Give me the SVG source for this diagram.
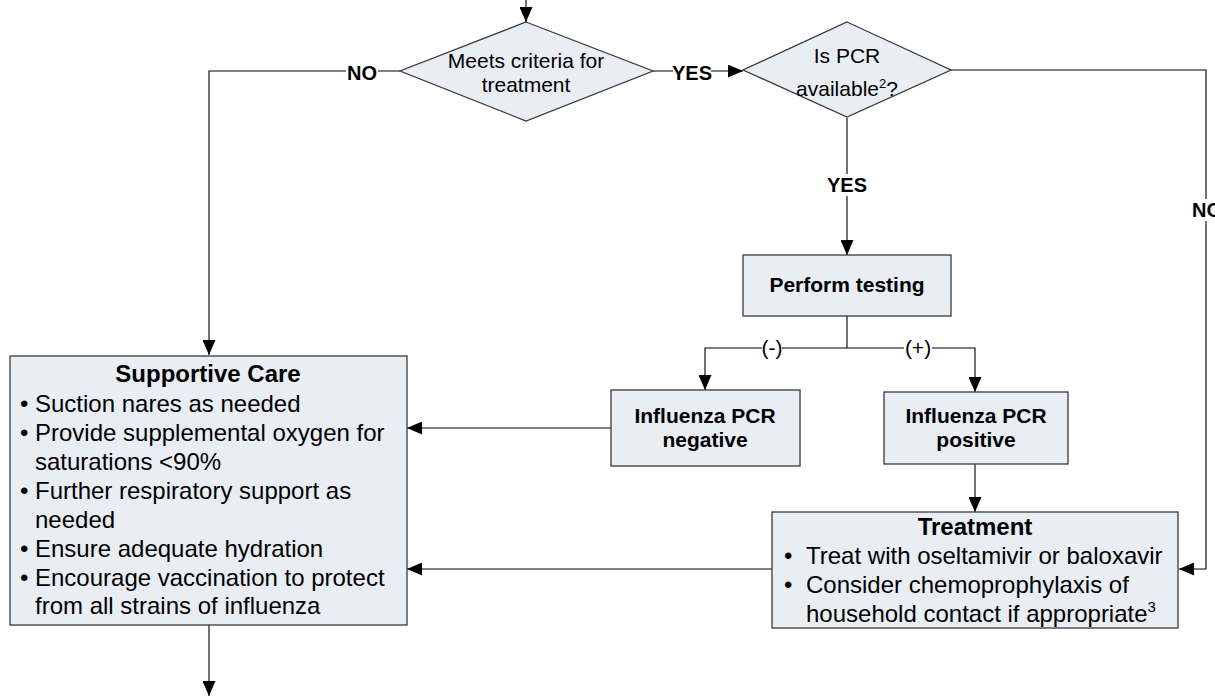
<svg xmlns="http://www.w3.org/2000/svg" width="1215" height="696" viewBox="0 0 1215 696">
<style>
.box{fill:#E9EDF4;stroke:#3a3a3a;stroke-width:1.3}
.ln{fill:none;stroke:#000;stroke-width:1.1}
.t{font-family:"Liberation Sans",Arial,sans-serif;fill:#000}
.b{font-weight:bold}
.bg{fill:#fff}
</style>
<defs>
<marker id="ah" markerUnits="userSpaceOnUse" markerWidth="15" markerHeight="13" refX="15" refY="6.5" orient="auto">
<path d="M0,0 L15,6.5 L0,13 z" fill="#000"/>
</marker>
</defs>
<g id="connectors">
<path class="ln" d="M526,0 V22" marker-end="url(#ah)"/>
<path class="ln" d="M400,71 H209 V355" marker-end="url(#ah)"/>
<path class="ln" d="M653,71 H743" marker-end="url(#ah)"/>
<path class="ln" d="M847,118 V255" marker-end="url(#ah)"/>
<path class="ln" d="M951,70 H1206 V569 H1179" marker-end="url(#ah)"/>
<path class="ln" d="M847,316 V348"/>
<path class="ln" d="M847,348 H705 V390" marker-end="url(#ah)"/>
<path class="ln" d="M847,348 H975 V392" marker-end="url(#ah)"/>
<path class="ln" d="M611,428 H407" marker-end="url(#ah)"/>
<path class="ln" d="M975,464 V512" marker-end="url(#ah)"/>
<path class="ln" d="M772,569 H407" marker-end="url(#ah)"/>
<path class="ln" d="M209,625 V696" marker-end="url(#ah)"/>
<rect class="bg" x="346" y="62" width="32" height="20"/>
<text class="t b" x="362" y="80" font-size="20" text-anchor="middle">NO</text>
<rect class="bg" x="673" y="62" width="38" height="20"/>
<text class="t b" x="692" y="80" font-size="20" text-anchor="middle">YES</text>
<rect class="bg" x="827" y="174" width="40" height="22"/>
<text class="t b" x="847" y="192" font-size="20" text-anchor="middle">YES</text>
<rect class="bg" x="1190" y="199" width="25" height="22"/>
<text class="t b" x="1192" y="217" font-size="20">NO</text>
<rect class="bg" x="762" y="338" width="20" height="22"/>
<text class="t" x="772" y="355" font-size="21" text-anchor="middle">(-)</text>
<rect class="bg" x="904" y="338" width="28" height="22"/>
<text class="t" x="918" y="355" font-size="21" text-anchor="middle">(+)</text>
</g>
<g id="criteria">
<polygon class="box" points="526,22 653,71 526,121 400,71"/>
<text class="t" x="526" y="68" font-size="21" text-anchor="middle">Meets criteria for</text>
<text class="t" x="526" y="92" font-size="21" text-anchor="middle">treatment</text>
</g>
<g id="pcr-available">
<polygon class="box" points="847,22 951,70 847,117 743,70"/>
<text class="t" x="847" y="63" font-size="21" text-anchor="middle">Is PCR</text>
<text class="t" x="847" y="96" font-size="21" text-anchor="middle">available<tspan font-size="13" dy="-8">2</tspan><tspan dy="8">?</tspan></text>
</g>
<g id="perform-testing">
<rect class="box" x="743" y="255" width="208" height="61"/>
<text class="t b" x="847" y="292" font-size="21" text-anchor="middle">Perform testing</text>
</g>
<g id="pcr-negative">
<rect class="box" x="611" y="390" width="189" height="76"/>
<text class="t b" x="705" y="423" font-size="21" text-anchor="middle">Influenza PCR</text>
<text class="t b" x="705" y="447" font-size="21" text-anchor="middle">negative</text>
</g>
<g id="pcr-positive">
<rect class="box" x="884" y="392" width="184" height="72"/>
<text class="t b" x="976" y="423" font-size="21" text-anchor="middle">Influenza PCR</text>
<text class="t b" x="976" y="447" font-size="21" text-anchor="middle">positive</text>
</g>
<g id="supportive-care">
<rect class="box" x="10" y="356" width="397" height="269"/>
<text class="t b" x="208" y="382" font-size="24" text-anchor="middle">Supportive Care</text>
<g class="t" font-size="24">
<text x="20" y="412">•</text><text x="35" y="412">Suction nares as needed</text>
<text x="20" y="441">•</text><text x="35" y="441">Provide supplemental oxygen for</text>
<text x="35" y="470">saturations &lt;90%</text>
<text x="20" y="499">•</text><text x="35" y="499">Further respiratory support as</text>
<text x="35" y="528">needed</text>
<text x="20" y="557">•</text><text x="35" y="557">Ensure adequate hydration</text>
<text x="20" y="586">•</text><text x="35" y="586">Encourage vaccination to protect</text>
<text x="35" y="614">from all strains of influenza</text>
</g>
</g>
<g id="treatment">
<rect class="box" x="772" y="512" width="406" height="116"/>
<text class="t b" x="975" y="535" font-size="24" text-anchor="middle">Treatment</text>
<g class="t" font-size="24">
<text x="784" y="564">•</text><text x="806" y="564">Treat with oseltamivir or baloxavir</text>
<text x="784" y="593">•</text><text x="806" y="593">Consider chemoprophylaxis of</text>
<text x="806" y="622">household contact if appropriate<tspan font-size="15" dy="-10">3</tspan></text>
</g>
</g>
</svg>
